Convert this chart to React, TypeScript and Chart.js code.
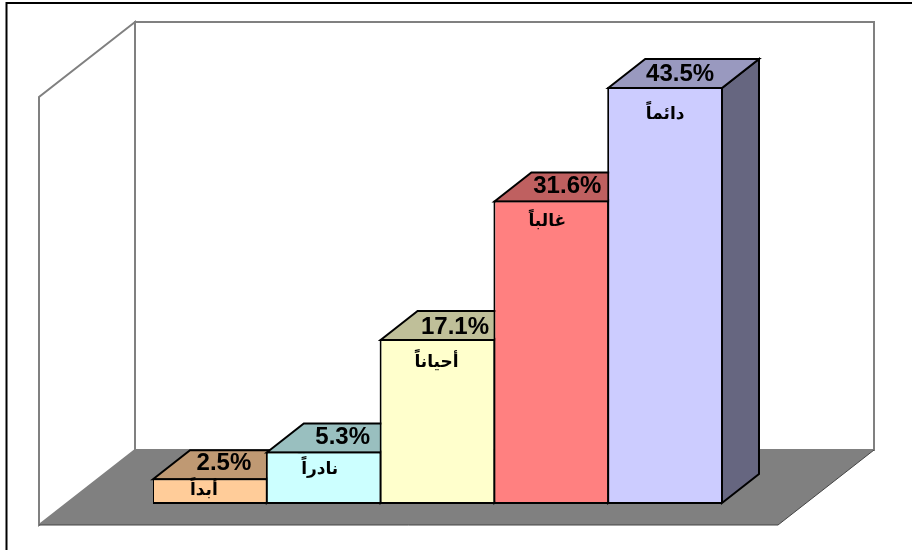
import React, { useEffect, useRef } from "react";
import { Chart, registerables } from "chart.js";

Chart.register(...registerables);

const categories = ["أبداً", "نادراً", "أحياناً", "غالباً", "دائماً"];
const values = [2.5, 5.3, 17.1, 31.6, 43.5];
const valueLabels = ["2.5%", "5.3%", "17.1%", "31.6%", "43.5%"];
const frontColors = ["#FFCC99", "#CCFFFF", "#FFFFCC", "#FF8080", "#CCCCFF"];
const topColors = ["#BF9973", "#99BFBF", "#BFBF99", "#BF6060", "#9999BF"];
const sideColors = ["#806650", "#668080", "#808066", "#804040", "#666680"];

const DEPTH_X = 37;
const DEPTH_Y = -29;
const AXIS_MIN = -0.2;
const valueNudge = [[14, -15], [19, -14], [17.5, -12], [16, -14], [15, -13]];
const nameNudge = [[-6, 12], [-4, 18], [-1, 23], [-4, 21], [0, 27]];

function poly(ctx: CanvasRenderingContext2D, pts: number[][], fill: string | null, stroke: string | null, lw = 2) {
  ctx.beginPath();
  pts.forEach(([x, y], i) => (i ? ctx.lineTo(x, y) : ctx.moveTo(x, y)));
  ctx.closePath();
  if (fill) { ctx.fillStyle = fill; ctx.fill(); }
  if (stroke) { ctx.strokeStyle = stroke; ctx.lineWidth = lw; ctx.lineJoin = "miter"; ctx.stroke(); }
}

const box3d = {
  id: "box3d",
  beforeDatasetsDraw(chart: any) {
    const ctx: CanvasRenderingContext2D = chart.ctx;
    ctx.save();
    // outer frame
    ctx.strokeStyle = "#000"; ctx.lineWidth = 2;
    ctx.beginPath();
    ctx.moveTo(6.5, 551); ctx.lineTo(6.5, 3); ctx.lineTo(913, 3);
    ctx.stroke();
    // walls and floor
    const wl = 39, wr = 135, fb = 525, bk = 450, tp = 22, fr = 778, br = 874;
    poly(ctx, [[wl, fb], [wr, bk], [wr, tp], [wl, 97]], "#fff", "#808080");
    poly(ctx, [[wr, bk], [br, bk], [br, tp], [wr, tp]], "#fff", "#808080");
    poly(ctx, [[wl, fb], [fr, fb], [br, bk], [wr, bk]], "#808080", null);
    ctx.strokeStyle = "#444"; ctx.lineWidth = 1;
    ctx.beginPath(); ctx.moveTo(wl, fb); ctx.lineTo(fr, fb); ctx.lineTo(br, bk); ctx.stroke();
    // depth faces of each bar, back to front
    chart.getDatasetMeta(0).data.forEach((bar: any, i: number) => {
      const l = bar.x - bar.width / 2 + 1, r = bar.x + bar.width / 2 - 1, t = bar.y + 1, b = bar.base - 1;
      poly(ctx, [[r, t], [r + DEPTH_X, t + DEPTH_Y], [r + DEPTH_X, b + DEPTH_Y], [r, b]], sideColors[i], "#000");
      poly(ctx, [[l, t], [l + DEPTH_X, t + DEPTH_Y], [r + DEPTH_X, t + DEPTH_Y], [r, t]], topColors[i], "#000");
    });
    ctx.restore();
  },
  afterDatasetsDraw(chart: any) {
    const ctx: CanvasRenderingContext2D = chart.ctx;
    ctx.save();
    ctx.fillStyle = "#000";
    ctx.textAlign = "center";
    ctx.textBaseline = "middle";
    chart.getDatasetMeta(0).data.forEach((bar: any, i: number) => {
      ctx.font = "bold 24px 'Liberation Sans'";
      ctx.direction = "ltr";
      ctx.fillText(valueLabels[i], bar.x + valueNudge[i][0], bar.y + valueNudge[i][1]);
      ctx.font = "bold 17px 'Liberation Sans', 'DejaVu Sans'";
      ctx.direction = "rtl";
      ctx.fillText(categories[i], bar.x + nameNudge[i][0], bar.y + nameNudge[i][1]);
    });
    ctx.restore();
  },
};

export default function App() {
  const ref = useRef<HTMLCanvasElement>(null);
  useEffect(() => {
    document.body.style.margin = "0";
    document.body.style.background = "#fff";
    const chart = new Chart(ref.current!, {
      type: "bar",
      data: {
        labels: categories,
        datasets: [{
          data: values,
          base: AXIS_MIN,
          backgroundColor: frontColors,
          borderColor: "#000",
          borderWidth: 2,
          borderSkipped: false,
          barPercentage: 1.0175,
          categoryPercentage: 1,
        }],
      },
      options: {
        responsive: false,
        animation: false,
        layout: { padding: { left: 153, right: 190, top: 25, bottom: 46 } },
        plugins: { legend: { display: false }, tooltip: { enabled: false } },
        scales: {
          x: { display: false },
          y: { display: false, min: AXIS_MIN, max: 50 },
        },
      },
      plugins: [box3d],
    });
    return () => chart.destroy();
  }, []);
  return <canvas ref={ref} width={912} height={550} style={{ display: "block" }} />;
}
